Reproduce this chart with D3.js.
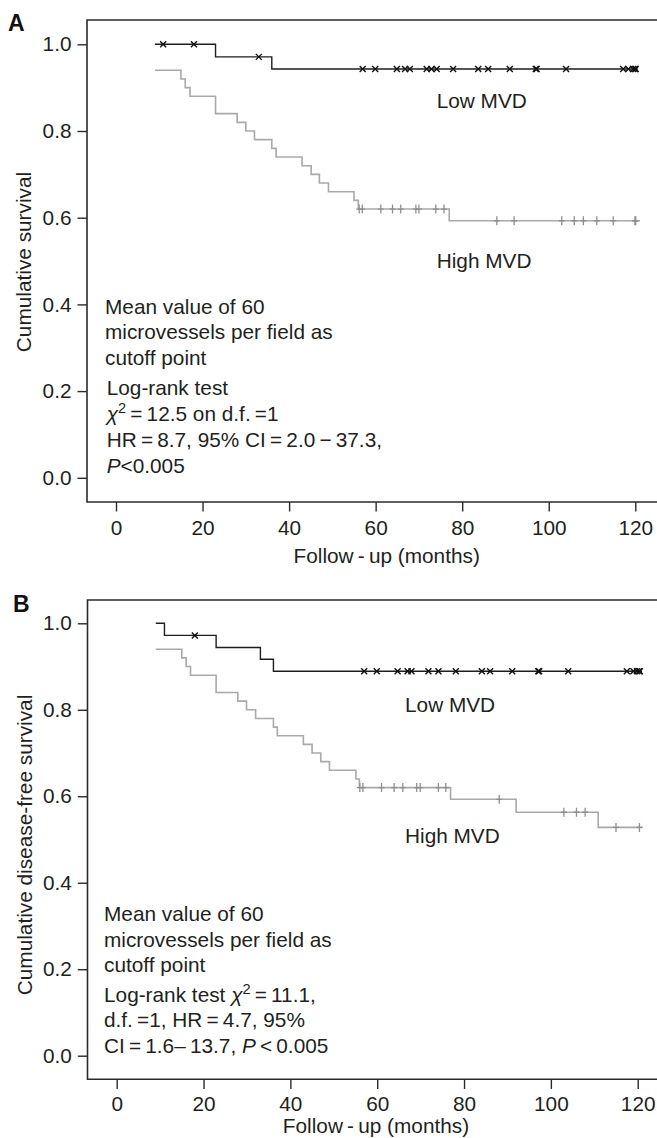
<!DOCTYPE html>
<html>
<head>
<meta charset="utf-8">
<script src="https://cdn.jsdelivr.net/npm/d3@7"></script>
<style>
  html, body { margin: 0; padding: 0; background: #fff; }
  svg { display: block; }
</style>
</head>
<body>
<svg id="chart" width="657" height="1138"></svg>
<script>
// ---------------- DATA ----------------
const xTicks = [0, 20, 40, 60, 80, 100, 120];
const yTicks = [0.0, 0.2, 0.4, 0.6, 0.8, 1.0];
const groupNames = ["Low MVD", "High MVD"];
const panelLetters = ["A", "B"];
const yTitles = ["Cumulative survival", "Cumulative disease-free survival"];
const xTitle = "Follow\u2009-\u2009up (months)";

// Panel A: overall survival
const aLowTimes = [9.0, 23.0, 36.0, 120.6];
const aLowSurv  = [1.000, 0.971, 0.943, 0.943];
const aLowCensor = [10.9, 18.0, 33.0, 57.0, 59.9, 64.9, 66.8, 67.9, 71.8, 72.9, 74.1, 77.9,
                    83.7, 86.0, 91.0, 97.0, 97.2, 104.0, 117.2, 118.4, 119.5, 119.9, 120.1];
const aHighTimes = [9.0, 15.0, 16.0, 17.1, 23.0, 28.0, 30.0, 32.0, 36.0, 37.0, 43.0, 45.1,
                    47.0, 49.1, 55.0, 56.0, 77.0, 121.1];
const aHighSurv  = [0.940, 0.920, 0.900, 0.880, 0.840, 0.820, 0.800, 0.780, 0.760, 0.740, 0.720, 0.700,
                    0.680, 0.660, 0.640, 0.620, 0.593, 0.593];
const aHighCensor = [56.2, 56.9, 61.2, 63.9, 65.8, 69.3, 70.0, 73.9, 75.8,
                     88.0, 92.0, 103.0, 105.9, 108.0, 111.1, 114.9, 119.9, 120.1];

// Panel B: disease-free survival
const bLowTimes = [9.0, 11.0, 22.9, 33.1, 36.1, 121.0];
const bLowSurv  = [1.000, 0.972, 0.944, 0.917, 0.889, 0.889];
const bLowCensor = [18.0, 57.0, 59.9, 64.7, 67.0, 67.9, 71.8, 74.1, 78.1, 84.1, 86.0, 91.1,
                    97.1, 97.3, 104.0, 117.5, 119.0, 119.8, 120.3, 120.5];
const bHighTimes = [9.0, 15.0, 16.0, 17.0, 22.9, 27.9, 29.9, 32.0, 36.1, 37.0, 43.0, 45.0,
                    47.0, 49.0, 55.1, 55.9, 76.9, 92.0, 110.9, 121.1];
const bHighSurv  = [0.940, 0.920, 0.900, 0.880, 0.840, 0.820, 0.800, 0.780, 0.760, 0.740, 0.720, 0.700,
                    0.680, 0.660, 0.640, 0.620, 0.593, 0.563, 0.528, 0.528];
const bHighCensor = [56.0, 56.7, 61.0, 63.9, 65.9, 69.1, 69.9, 74.1, 75.8,
                     88.1, 103.0, 105.9, 107.9, 115.0, 120.4];

// Annotation text lines
const aNotes = [
  [{t: "Mean value of 60"}],
  [{t: "microvessels per field as"}],
  [{t: "cutoff point"}],
  [{t: "Log-rank test"}],
  [{t: "\u03c7", i: true}, {t: "2", sup: true}, {t: "\u2009=\u200912.5 on d.f.\u2009=1"}],
  [{t: "HR\u2009=\u20098.7, 95% CI\u2009=\u20092.0\u2009\u2212\u200937.3,"}],
  [{t: "P", i: true}, {t: "<0.005"}]
];
const bNotes = [
  [{t: "Mean value of 60"}],
  [{t: "microvessels per field as"}],
  [{t: "cutoff point"}],
  [{t: "Log-rank test "}, {t: "\u03c7", i: true}, {t: "2", sup: true}, {t: "\u2009=\u200911.1,"}],
  [{t: "d.f.\u2009=1, HR\u2009=\u20094.7, 95%"}],
  [{t: "CI\u2009=\u20091.6\u2013\u200913.7, "}, {t: "P", i: true}, {t: "\u2009<\u20090.005"}]
];

// ---------------- LAYOUT ----------------
const FONT = "'Liberation Sans', Arial, Helvetica, sans-serif";
const FS = 20.8;
const TXT = "#231f20";
const FRAME = "#2b2b2b";
const LOWC = "#1e1e1e";
const HIGHC = "#a9a9a9";

const panels = [
  {
    letter: panelLetters[0], letterX: 8, letterY: 31,
    left: 87, top: 20, bottom: 502,
    xr: [116, 635.3], yr: [477.8, 44.3],
    tickLen: 9.5, xPad: 8.5,
    xTitleX: 386.7, xTitleY: 563,
    yTitle: yTitles[0], yTitleX: 31, yTitleY: 262,
    low: {times: aLowTimes, surv: aLowSurv, cens: aLowCensor},
    high: {times: aHighTimes, surv: aHighSurv, cens: aHighCensor},
    lowLabel: [436.7, 108], highLabel: [436.7, 268.3],
    notes: aNotes, notesX: [105, 105, 105, 106.7, 106.7, 106.7, 106.7],
    notesY: [314.3, 339.3, 365, 395, 420.7, 447.3, 472.7]
  },
  {
    letter: panelLetters[1], letterX: 13, letterY: 611.7,
    left: 87.5, top: 600, bottom: 1079.3,
    xr: [116.7, 637.7], yr: [1055.7, 623.3],
    tickLen: 9.7, xPad: 6.8,
    xTitleX: 376, xTitleY: 1133,
    yTitle: yTitles[1], yTitleX: 32, yTitleY: 845,
    low: {times: bLowTimes, surv: bLowSurv, cens: bLowCensor},
    high: {times: bHighTimes, surv: bHighSurv, cens: bHighCensor},
    lowLabel: [405, 711.7], highLabel: [405, 842.7],
    notes: bNotes, notesX: [104, 104, 104, 104, 104, 104],
    notesY: [920.7, 946.7, 971.7, 1001.7, 1026.7, 1052.7]
  }
];

const svg = d3.select("#chart");

function stepValue(times, surv, t) {
  let v = surv[0];
  for (let i = 0; i < times.length; i++) {
    if (times[i] <= t) v = surv[i];
  }
  return v;
}

panels.forEach(p => {
  const x = d3.scaleLinear().domain([0, 120]).range(p.xr);
  const y = d3.scaleLinear().domain([0, 1]).range(p.yr);
  const g = svg.append("g");

  // frame (open to the right, as in the reference)
  g.append("path")
    .attr("d", `M${p.left + 700},${p.top}H${p.left}V${p.bottom}H${p.left + 700}`)
    .attr("fill", "none").attr("stroke", FRAME).attr("stroke-width", 1.6);

  // y axis
  const ya = d3.axisLeft(y).tickValues(yTicks).tickFormat(d3.format(".1f"))
    .tickSize(p.tickLen).tickPadding(6);
  const yg = g.append("g").attr("transform", `translate(${p.left},0)`).call(ya);
  yg.select(".domain").remove();
  yg.selectAll(".tick line").attr("stroke", FRAME).attr("stroke-width", 1.4);
  yg.selectAll(".tick text").attr("fill", TXT).style("font-family", FONT).style("font-size", FS + "px");

  // x axis
  const xa = d3.axisBottom(x).tickValues(xTicks).tickFormat(d3.format("d"))
    .tickSize(p.tickLen).tickPadding(p.xPad);
  const xg = g.append("g").attr("transform", `translate(0,${p.bottom})`).call(xa);
  xg.select(".domain").remove();
  xg.selectAll(".tick line").attr("stroke", FRAME).attr("stroke-width", 1.4);
  xg.selectAll(".tick text").attr("fill", TXT).style("font-family", FONT).style("font-size", FS + "px");

  // titles
  g.append("text").attr("x", p.xTitleX).attr("y", p.xTitleY)
    .attr("text-anchor", "middle").attr("fill", TXT)
    .style("font-family", FONT).style("font-size", FS + "px").text(xTitle);
  g.append("text")
    .attr("transform", `translate(${p.yTitleX},${p.yTitleY}) rotate(-90)`)
    .attr("text-anchor", "middle").attr("fill", TXT)
    .style("font-family", FONT).style("font-size", FS + "px").text(p.yTitle);

  // panel letter
  g.append("text").attr("x", p.letterX).attr("y", p.letterY)
    .attr("fill", "#111").style("font-family", FONT).style("font-size", "23px")
    .style("font-weight", "bold").text(p.letter);

  // curves
  const line = d3.line().x(d => x(d[0])).y(d => y(d[1])).curve(d3.curveStepAfter);
  const drawCurve = (c, color, w) => {
    const pts = c.times.map((t, i) => [t, c.surv[i]]);
    g.append("path").attr("d", line(pts)).attr("fill", "none")
      .attr("stroke", color).attr("stroke-width", w);
  };
  drawCurve(p.high, HIGHC, 1.6);
  drawCurve(p.low, LOWC, 1.4);

  // censor marks: high (+ ticks)
  g.append("g").selectAll("path").data(p.high.cens).join("path")
    .attr("transform", d => `translate(${x(d)},${y(stepValue(p.high.times, p.high.surv, d))})`)
    .attr("d", "M0,-4.5V4.5M-3,0H3")
    .attr("stroke", "#8f8f8f").attr("stroke-width", 1.3).attr("fill", "none");

  // censor marks: low (x crosses)
  g.append("g").selectAll("path").data(p.low.cens).join("path")
    .attr("transform", d => `translate(${x(d)},${y(stepValue(p.low.times, p.low.surv, d))})`)
    .attr("d", "M-3,-3L3,3M-3,3L3,-3")
    .attr("stroke", "#111").attr("stroke-width", 1.4).attr("fill", "none");

  // group labels
  [[groupNames[0], p.lowLabel], [groupNames[1], p.highLabel]].forEach(([name, pos]) => {
    g.append("text").attr("x", pos[0]).attr("y", pos[1]).attr("fill", TXT)
      .style("font-family", FONT).style("font-size", FS + "px").text(name);
  });

  // notes
  p.notes.forEach((parts, i) => {
    const t = g.append("text").attr("x", p.notesX[i]).attr("y", p.notesY[i]).attr("fill", TXT)
      .style("font-family", FONT).style("font-size", FS + "px");
    let afterSup = false;
    parts.forEach(part => {
      const ts = t.append("tspan").text(part.t);
      if (part.i) ts.style("font-style", "italic");
      if (part.sup) {
        ts.attr("dy", -8).style("font-size", (FS * 0.7) + "px");
        afterSup = true;
      } else if (afterSup) {
        ts.attr("dy", 8);
        afterSup = false;
      }
    });
  });
});
</script>
</body>
</html>
